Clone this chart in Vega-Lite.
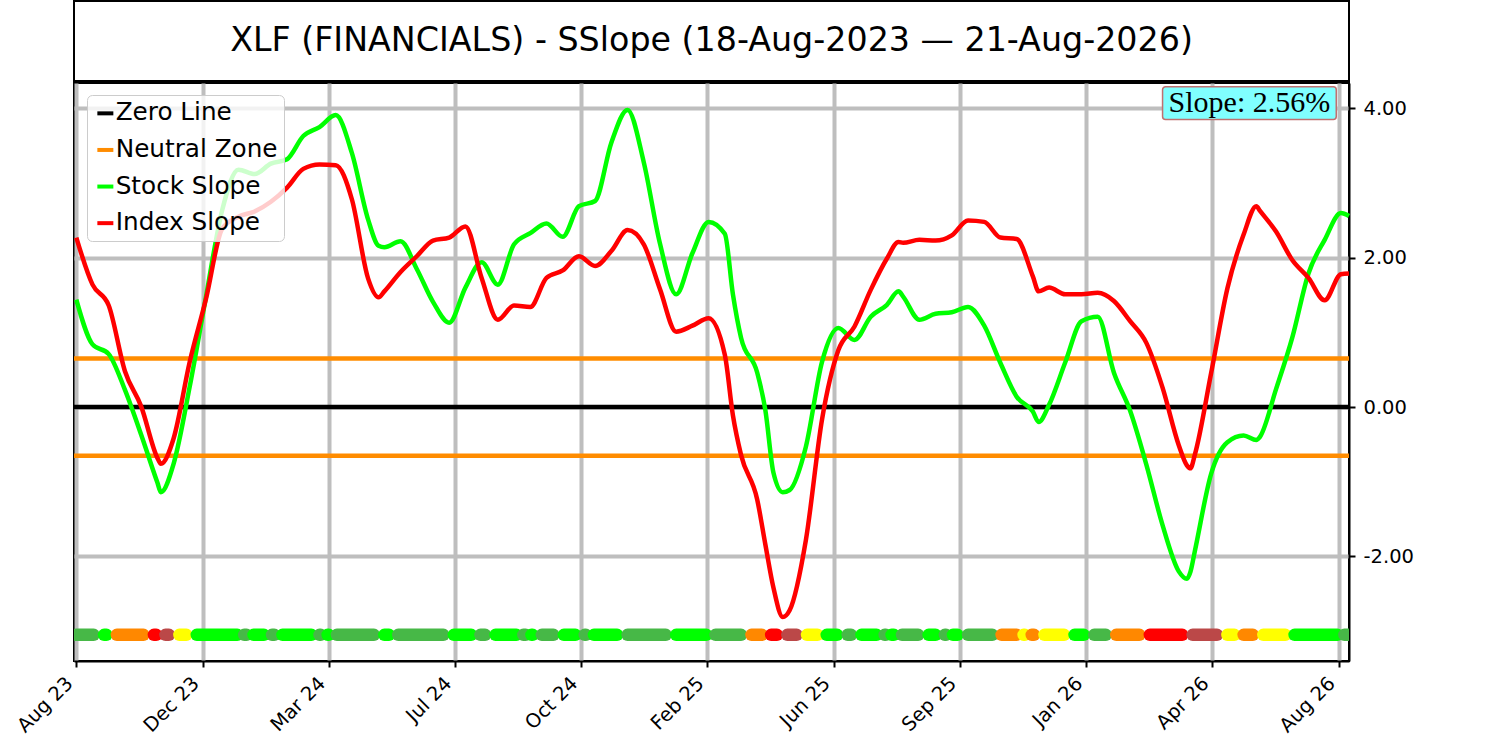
{
  "$schema": "https://vega.github.io/schema/vega-lite/v6.json",
  "background": "white",
  "padding": {"left": 12, "top": 0, "right": 5, "bottom": 0},
  "spacing": 0,
  "config": {
    "view": {"stroke": "black", "strokeWidth": 2},
    "font": "DejaVu Sans"
  },
  "datasets": {
    "levels": [
      {"level": 0, "name": "Zero Line"},
      {"level": 0.65, "name": "Neutral Zone"},
      {"level": -0.65, "name": "Neutral Zone"}
    ],
    "series": [
      {"date": "2023-08-18", "stock": 1.44, "index": 2.27},
      {"date": "2023-09-01", "stock": 0.84, "index": 1.64},
      {"date": "2023-09-15", "stock": 0.71, "index": 1.36},
      {"date": "2023-09-29", "stock": 0.23, "index": 0.48},
      {"date": "2023-10-13", "stock": -0.37, "index": 0.01},
      {"date": "2023-10-27", "stock": -1.01, "index": -0.68},
      {"date": "2023-10-30", "stock": -1.14, "index": -0.76},
      {"date": "2023-11-10", "stock": -0.76, "index": -0.42},
      {"date": "2023-11-24", "stock": 0.28, "index": 0.61},
      {"date": "2023-12-08", "stock": 1.48, "index": 1.45},
      {"date": "2023-12-22", "stock": 2.64, "index": 2.39},
      {"date": "2024-01-05", "stock": 3.18, "index": 2.55},
      {"date": "2024-01-19", "stock": 3.12, "index": 2.62},
      {"date": "2024-02-02", "stock": 3.26, "index": 2.75},
      {"date": "2024-02-16", "stock": 3.32, "index": 2.94},
      {"date": "2024-03-01", "stock": 3.63, "index": 3.19},
      {"date": "2024-03-15", "stock": 3.75, "index": 3.25},
      {"date": "2024-03-29", "stock": 3.91, "index": 3.24},
      {"date": "2024-04-12", "stock": 3.40, "index": 2.78},
      {"date": "2024-04-26", "stock": 2.51, "index": 1.72},
      {"date": "2024-05-05", "stock": 2.16, "index": 1.47},
      {"date": "2024-05-10", "stock": 2.14, "index": 1.55},
      {"date": "2024-05-24", "stock": 2.22, "index": 1.81},
      {"date": "2024-06-07", "stock": 1.85, "index": 2.02},
      {"date": "2024-06-21", "stock": 1.41, "index": 2.23},
      {"date": "2024-07-05", "stock": 1.13, "index": 2.27},
      {"date": "2024-07-19", "stock": 1.60, "index": 2.42},
      {"date": "2024-08-02", "stock": 1.94, "index": 1.73},
      {"date": "2024-08-16", "stock": 1.64, "index": 1.17},
      {"date": "2024-08-30", "stock": 2.18, "index": 1.36},
      {"date": "2024-09-13", "stock": 2.33, "index": 1.34},
      {"date": "2024-09-27", "stock": 2.46, "index": 1.73},
      {"date": "2024-10-11", "stock": 2.28, "index": 1.83},
      {"date": "2024-10-25", "stock": 2.69, "index": 2.02},
      {"date": "2024-11-08", "stock": 2.76, "index": 1.89},
      {"date": "2024-11-22", "stock": 3.54, "index": 2.09},
      {"date": "2024-12-06", "stock": 3.98, "index": 2.37},
      {"date": "2024-12-20", "stock": 3.28, "index": 2.18},
      {"date": "2025-01-03", "stock": 2.19, "index": 1.58},
      {"date": "2025-01-17", "stock": 1.51, "index": 1.01},
      {"date": "2025-01-31", "stock": 2.06, "index": 1.09},
      {"date": "2025-02-14", "stock": 2.48, "index": 1.19},
      {"date": "2025-02-28", "stock": 2.32, "index": 0.70},
      {"date": "2025-03-07", "stock": 1.51, "index": -0.11},
      {"date": "2025-03-14", "stock": 0.93, "index": -0.64},
      {"date": "2025-03-28", "stock": 0.46, "index": -1.24},
      {"date": "2025-04-04", "stock": -0.04, "index": -1.84},
      {"date": "2025-04-11", "stock": -0.88, "index": -2.42},
      {"date": "2025-04-19", "stock": -1.14, "index": -2.81},
      {"date": "2025-04-25", "stock": -1.11, "index": -2.72},
      {"date": "2025-05-09", "stock": -0.53, "index": -1.78},
      {"date": "2025-05-23", "stock": 0.61, "index": -0.16},
      {"date": "2025-06-06", "stock": 1.06, "index": 0.76},
      {"date": "2025-06-20", "stock": 0.90, "index": 1.08},
      {"date": "2025-07-04", "stock": 1.21, "index": 1.57},
      {"date": "2025-07-18", "stock": 1.37, "index": 1.99},
      {"date": "2025-07-28", "stock": 1.55, "index": 2.21},
      {"date": "2025-08-01", "stock": 1.48, "index": 2.20},
      {"date": "2025-08-15", "stock": 1.17, "index": 2.24},
      {"date": "2025-08-29", "stock": 1.25, "index": 2.23},
      {"date": "2025-09-12", "stock": 1.27, "index": 2.30},
      {"date": "2025-09-26", "stock": 1.34, "index": 2.50},
      {"date": "2025-10-10", "stock": 1.09, "index": 2.48},
      {"date": "2025-10-24", "stock": 0.59, "index": 2.27},
      {"date": "2025-11-07", "stock": 0.14, "index": 2.25},
      {"date": "2025-11-21", "stock": -0.06, "index": 1.75},
      {"date": "2025-11-26", "stock": -0.20, "index": 1.55},
      {"date": "2025-12-05", "stock": 0.03, "index": 1.60},
      {"date": "2025-12-19", "stock": 0.60, "index": 1.51},
      {"date": "2026-01-02", "stock": 1.15, "index": 1.51},
      {"date": "2026-01-16", "stock": 1.21, "index": 1.53},
      {"date": "2026-01-30", "stock": 0.46, "index": 1.42},
      {"date": "2026-02-13", "stock": -0.05, "index": 1.15},
      {"date": "2026-02-27", "stock": -0.77, "index": 0.86},
      {"date": "2026-03-13", "stock": -1.58, "index": 0.26},
      {"date": "2026-03-27", "stock": -2.20, "index": -0.51},
      {"date": "2026-04-03", "stock": -2.30, "index": -0.78},
      {"date": "2026-04-06", "stock": -2.21, "index": -0.82},
      {"date": "2026-04-10", "stock": -1.92, "index": -0.63},
      {"date": "2026-04-24", "stock": -0.89, "index": 0.46},
      {"date": "2026-05-08", "stock": -0.47, "index": 1.59},
      {"date": "2026-05-22", "stock": -0.38, "index": 2.31},
      {"date": "2026-06-02", "stock": -0.44, "index": 2.69},
      {"date": "2026-06-05", "stock": -0.40, "index": 2.63},
      {"date": "2026-06-19", "stock": 0.24, "index": 2.35},
      {"date": "2026-07-03", "stock": 0.93, "index": 1.97},
      {"date": "2026-07-17", "stock": 1.79, "index": 1.73},
      {"date": "2026-07-31", "stock": 2.24, "index": 1.43},
      {"date": "2026-08-14", "stock": 2.60, "index": 1.78},
      {"date": "2026-08-21", "stock": 2.56, "index": 1.79}
    ],
    "strip": [
      {"start": "2023-08-18", "end": "2023-09-02", "state": "Bull"},
      {"start": "2023-09-11", "end": "2023-09-13", "state": "Strong Bull"},
      {"start": "2023-09-22", "end": "2023-10-15", "state": "Caution"},
      {"start": "2023-10-24", "end": "2023-10-26", "state": "Bear"},
      {"start": "2023-11-03", "end": "2023-11-06", "state": "Deep Bear"},
      {"start": "2023-11-15", "end": "2023-11-21", "state": "Recovery"},
      {"start": "2023-11-30", "end": "2024-01-04", "state": "Strong Bull"},
      {"start": "2024-01-10", "end": "2024-01-12", "state": "Bull"},
      {"start": "2024-01-18", "end": "2024-01-27", "state": "Strong Bull"},
      {"start": "2024-02-03", "end": "2024-02-05", "state": "Bull"},
      {"start": "2024-02-12", "end": "2024-03-08", "state": "Strong Bull"},
      {"start": "2024-03-15", "end": "2024-03-16", "state": "Bull"},
      {"start": "2024-03-22", "end": "2024-03-23", "state": "Strong Bull"},
      {"start": "2024-03-30", "end": "2024-05-01", "state": "Bull"},
      {"start": "2024-05-10", "end": "2024-05-14", "state": "Strong Bull"},
      {"start": "2024-05-22", "end": "2024-06-30", "state": "Bull"},
      {"start": "2024-07-09", "end": "2024-07-24", "state": "Strong Bull"},
      {"start": "2024-08-01", "end": "2024-08-05", "state": "Bull"},
      {"start": "2024-08-14", "end": "2024-09-01", "state": "Strong Bull"},
      {"start": "2024-09-07", "end": "2024-09-09", "state": "Bull"},
      {"start": "2024-09-14", "end": "2024-09-15", "state": "Strong Bull"},
      {"start": "2024-09-23", "end": "2024-10-03", "state": "Bull"},
      {"start": "2024-10-12", "end": "2024-10-22", "state": "Strong Bull"},
      {"start": "2024-10-30", "end": "2024-10-31", "state": "Bull"},
      {"start": "2024-11-07", "end": "2024-11-27", "state": "Strong Bull"},
      {"start": "2024-12-06", "end": "2025-01-08", "state": "Bull"},
      {"start": "2025-01-17", "end": "2025-02-12", "state": "Strong Bull"},
      {"start": "2025-02-20", "end": "2025-03-14", "state": "Bull"},
      {"start": "2025-03-23", "end": "2025-04-01", "state": "Caution"},
      {"start": "2025-04-09", "end": "2025-04-14", "state": "Bear"},
      {"start": "2025-04-23", "end": "2025-05-01", "state": "Deep Bear"},
      {"start": "2025-05-10", "end": "2025-05-19", "state": "Recovery"},
      {"start": "2025-05-27", "end": "2025-06-05", "state": "Strong Bull"},
      {"start": "2025-06-14", "end": "2025-06-17", "state": "Bull"},
      {"start": "2025-06-26", "end": "2025-07-09", "state": "Strong Bull"},
      {"start": "2025-07-16", "end": "2025-07-17", "state": "Bull"},
      {"start": "2025-07-22", "end": "2025-07-24", "state": "Strong Bull"},
      {"start": "2025-07-31", "end": "2025-08-14", "state": "Bull"},
      {"start": "2025-08-23", "end": "2025-08-29", "state": "Strong Bull"},
      {"start": "2025-09-06", "end": "2025-09-07", "state": "Bull"},
      {"start": "2025-09-13", "end": "2025-09-17", "state": "Strong Bull"},
      {"start": "2025-09-26", "end": "2025-10-17", "state": "Bull"},
      {"start": "2025-10-25", "end": "2025-11-07", "state": "Caution"},
      {"start": "2025-11-13", "end": "2025-11-14", "state": "Recovery"},
      {"start": "2025-11-20", "end": "2025-11-22", "state": "Caution"},
      {"start": "2025-12-01", "end": "2025-12-18", "state": "Recovery"},
      {"start": "2025-12-27", "end": "2026-01-04", "state": "Strong Bull"},
      {"start": "2026-01-13", "end": "2026-01-23", "state": "Bull"},
      {"start": "2026-02-01", "end": "2026-02-21", "state": "Caution"},
      {"start": "2026-03-02", "end": "2026-03-30", "state": "Bear"},
      {"start": "2026-04-08", "end": "2026-04-29", "state": "Deep Bear"},
      {"start": "2026-05-08", "end": "2026-05-14", "state": "Recovery"},
      {"start": "2026-05-22", "end": "2026-05-30", "state": "Caution"},
      {"start": "2026-06-08", "end": "2026-06-27", "state": "Recovery"},
      {"start": "2026-07-05", "end": "2026-08-11", "state": "Strong Bull"},
      {"start": "2026-08-17", "end": "2026-08-21", "state": "Bull"}
    ]
  },
  "vconcat": [
    {
      "width": 1275,
      "height": 80,
      "data": {"values": [{"title": "XLF (FINANCIALS) - SSlope (18-Aug-2023 — 21-Aug-2026)"}]},
      "layer": [
        {
          "mark": {"type": "rect", "fill": "white", "stroke": "black", "strokeWidth": 2},
          "encoding": {}
        },
        {
          "mark": {"type": "text", "font": "DejaVu Sans", "fontSize": 33.3, "color": "black", "baseline": "middle", "align": "center"},
          "encoding": {"text": {"field": "title", "type": "nominal"}}
        }
      ]
    },
    {
      "width": 1275,
      "height": 578,
      "layer": [
        {
          "data": {"name": "levels"},
          "mark": {"type": "rule", "strokeWidth": 4.5},
          "encoding": {
            "y": {
              "field": "level",
              "type": "quantitative",
              "scale": {"domain": [-3.4, 4.34], "nice": false, "zero": false},
              "axis": {
                "orient": "right",
                "values": [-2, 0, 2, 4],
                "labelExpr": "replace(format(datum.value, '.2f'), '\u2212', '-')",
                "labelFontSize": 19.5,
                "labelFont": "DejaVu Sans",
                "labelColor": "black",
                "tickColor": "black",
                "tickSize": 6,
                "tickWidth": 2,
                "domainColor": "black",
                "domainWidth": 2,
                "grid": true,
                "gridColor": "#bebebe",
                "gridWidth": 4,
                "title": null,
                "labelPadding": 8
              }
            },
            "color": {
              "field": "name",
              "type": "nominal",
              "scale": {
                "domain": ["Zero Line", "Neutral Zone", "Stock Slope", "Index Slope"],
                "range": ["#000000", "#ff8c00", "#00ff00", "#ff0000"]
              },
              "legend": {
                "orient": "none",
                "legendX": 13,
                "legendY": 94,
                "zindex": 1,
                "title": null,
                "symbolType": "stroke",
                "symbolStrokeWidth": 4,
                "symbolSize": 256,
                "labelFontSize": 24.7,
                "labelFont": "DejaVu Sans",
                "labelColor": "black",
                "labelLimit": 400,
                "padding": 6,
                "rowPadding": 10.6,
                "labelOffset": -2,
                "fillColor": "rgba(255,255,255,0.8)",
                "strokeColor": "#cccccc",
                "cornerRadius": 5
              }
            }
          }
        },
        {
          "data": {"name": "strip"},
          "mark": {"type": "rule", "strokeWidth": 12.5, "strokeCap": "round", "clip": true},
          "encoding": {
            "x": {
              "field": "start",
              "type": "temporal",
              "scale": {
                "type": "utc",
                "domain": [
                  {"year": 2023, "month": 8, "date": 16, "utc": true},
                  {"year": 2026, "month": 8, "date": 21, "utc": true}
                ],
                "nice": false
              },
              "axis": {
                "values": [
                  {"year": 2023, "month": 8, "date": 18, "utc": true},
                  {"year": 2023, "month": 12, "date": 5, "utc": true},
                  {"year": 2024, "month": 3, "date": 23, "utc": true},
                  {"year": 2024, "month": 7, "date": 10, "utc": true},
                  {"year": 2024, "month": 10, "date": 27, "utc": true},
                  {"year": 2025, "month": 2, "date": 13, "utc": true},
                  {"year": 2025, "month": 6, "date": 2, "utc": true},
                  {"year": 2025, "month": 9, "date": 19, "utc": true},
                  {"year": 2026, "month": 1, "date": 6, "utc": true},
                  {"year": 2026, "month": 4, "date": 25, "utc": true},
                  {"year": 2026, "month": 8, "date": 12, "utc": true}
                ],
                "format": "%b %y",
                "labelAngle": -45,
                "labelAlign": "right",
                "labelBaseline": "bottom",
                "labelFontSize": 19.5,
                "labelFont": "DejaVu Sans",
                "labelColor": "black",
                "tickColor": "black",
                "tickSize": 6,
                "tickWidth": 2,
                "domainColor": "black",
                "domainWidth": 2,
                "grid": true,
                "gridColor": "#bebebe",
                "gridWidth": 4,
                "title": null,
                "labelPadding": 20,
                "labelFlush": false,
                "labelOverlap": false,
                "labelBound": false
              }
            },
            "x2": {"field": "end"},
            "y": {"datum": -3.05},
            "stroke": {
              "field": "state",
              "type": "nominal",
              "scale": {
                "domain": ["Strong Bull", "Bull", "Recovery", "Caution", "Bear", "Deep Bear"],
                "range": ["#00ff00", "#47b847", "#ffff00", "#ff8800", "#ff0000", "#bb4848"]
              },
              "legend": null
            }
          }
        },
        {
          "data": {"name": "series"},
          "mark": {"type": "line", "strokeWidth": 4.5, "interpolate": "monotone"},
          "encoding": {
            "x": {"field": "date", "type": "temporal"},
            "y": {"field": "stock", "type": "quantitative"},
            "color": {"datum": "Stock Slope"}
          }
        },
        {
          "data": {"name": "series"},
          "mark": {"type": "line", "strokeWidth": 4.5, "interpolate": "monotone"},
          "encoding": {
            "x": {"field": "date", "type": "temporal"},
            "y": {"field": "index", "type": "quantitative"},
            "color": {"datum": "Index Slope"}
          }
        },
        {
          "data": {"values": [{"label": "Slope: 2.56%"}]},
          "mark": {"type": "rect", "fill": "#80ffff", "stroke": "#c07070", "strokeWidth": 1.5, "cornerRadius": 3},
          "encoding": {
            "x": {"datum": {"year": 2026, "month": 3, "date": 13, "utc": true}, "type": "temporal"},
            "x2": {"datum": {"year": 2026, "month": 8, "date": 10, "utc": true}},
            "y": {"datum": 4.29},
            "y2": {"datum": 3.85}
          }
        },
        {
          "data": {"values": [{"label": "Slope: 2.56%"}]},
          "mark": {"type": "text", "font": "Liberation Serif", "fontSize": 30, "color": "black", "baseline": "middle", "align": "center"},
          "encoding": {
            "x": {"datum": {"year": 2026, "month": 5, "date": 27, "utc": true}, "type": "temporal"},
            "y": {"datum": 4.07},
            "text": {"field": "label", "type": "nominal"}
          }
        }
      ]
    }
  ]
}
